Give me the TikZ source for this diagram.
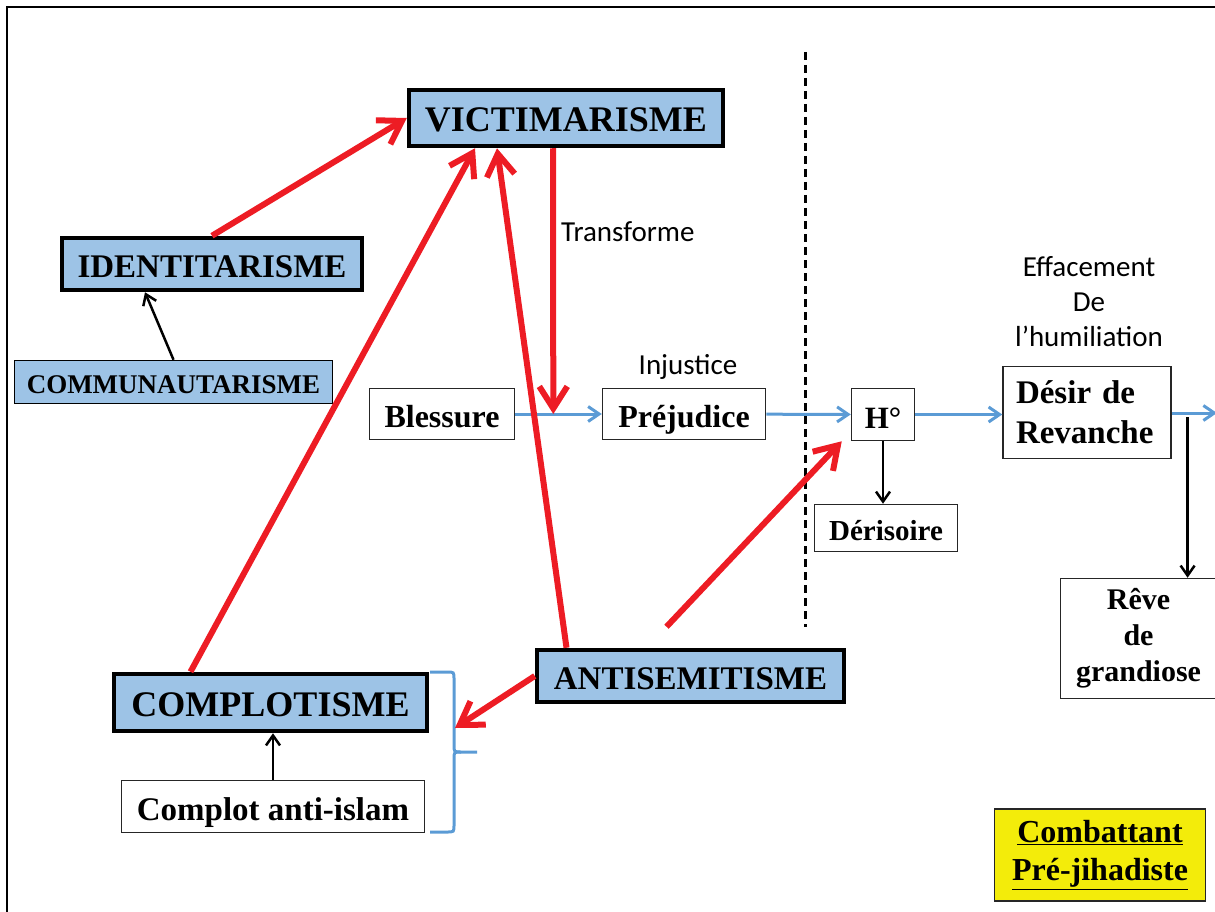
\documentclass[tikz,border=0pt]{standalone}
\usepackage{fontspec}
\setmainfont{Liberation Serif}
\newfontfamily\calibri{Carlito}
\usetikzlibrary{arrows.meta}
\definecolor{boxblue}{RGB}{157,195,230}
\definecolor{lineblue}{RGB}{91,155,213}
\definecolor{arrowred}{RGB}{237,28,36}
\definecolor{jaune}{RGB}{243,236,10}

\begin{document}
\begin{tikzpicture}[x=1pt,y=-1pt,
  idee/.style={draw=black,line width=4.5pt,fill=boxblue,inner sep=0pt,text height=27pt,text depth=0pt},
  etape/.style={draw=black!85,line width=1.5pt,fill=white,inner sep=0pt,align=center},
  ligne/.style={text height=28pt,text depth=1pt},
  legende/.style={font=\calibri\fontsize{29}{35}\selectfont,align=center,inner sep=0pt},
  rouge/.style={draw=arrowred,line width=6pt,-{Straight Barb[length=22pt,width=28pt]}},
  bleu/.style={draw=lineblue,line width=3pt,-{Straight Barb[length=11pt,width=15pt]}},
  noir/.style={draw=black,line width=2.5pt,-{Straight Barb[length=10pt,width=14pt]}},
  accolade/.style={draw=lineblue,line width=3pt}]
\useasboundingbox (0,0) rectangle (1215,912);
\clip (0,0) rectangle (1215,912);
\draw[line width=2.5pt] (7,7) rectangle (1260,960);

\node[idee,minimum width=314pt,minimum height=56pt,font=\fontsize{36}{40}\selectfont\bfseries] (vic) at (566,118) {VICTIMARISME};
\node[idee,text height=26pt,minimum width=300pt,minimum height=52pt,font=\fontsize{33}{38}\selectfont\bfseries] (ide) at (212,264) {IDENTITARISME};
\node[idee,text height=22pt,line width=1.5pt,minimum width=318pt,minimum height=43pt,font=\fontsize{27}{30}\selectfont\bfseries] (comm) at (173.5,382) {COMMUNAUTARISME};
\node[idee,minimum width=313pt,minimum height=57pt,font=\fontsize{36}{40}\selectfont\bfseries] (compl) at (270.5,702.5) {COMPLOTISME};
\node[idee,text height=26pt,minimum width=307pt,minimum height=52pt,font=\fontsize{33}{38}\selectfont\bfseries] (anti) at (690.5,676) {ANTISEMITISME};

\node[etape,ligne,minimum width=145pt,minimum height=51pt,font=\fontsize{32}{38}\selectfont\bfseries] (bles) at (442,414) {Blessure};
\node[etape,ligne,minimum width=163pt,minimum height=51pt,font=\fontsize{32}{38}\selectfont\bfseries] (prej) at (684,414) {Préjudice};
\node[etape,ligne,minimum width=63pt,minimum height=52pt,font=\fontsize{31}{38}\selectfont\bfseries] (hdeg) at (883,414.5) {H°};
\node[etape,text height=25pt,text depth=1pt,minimum width=143pt,minimum height=47pt,font=\fontsize{29}{34}\selectfont\bfseries] (deri) at (886,528) {Dérisoire};
\node[etape,align=left,text width=142pt,inner xsep=13pt,minimum height=92pt,font=\fontsize{33}{40}\selectfont\bfseries] (desir) at (1087,412.5) {Désir de\\Revanche};
\node[etape,minimum width=156pt,minimum height=120pt,font=\fontsize{30}{36}\selectfont\bfseries] (reve) at (1138.5,638.5) {Rêve\\de\\grandiose};
\node[etape,ligne,minimum width=303pt,minimum height=52pt,font=\fontsize{33}{38}\selectfont\bfseries] (ca) at (273,806.5) {Complot anti-islam};
\node[etape,fill=jaune,minimum width=211pt,minimum height=92pt,font=\fontsize{32}{38}\selectfont\bfseries] (comb) at (1100,855) {\underline{Combattant}\\\underline{Pré-jihadiste}};

\node[legende,anchor=west] (transf) at (561,232) {Transforme};
\node[legende] (inj) at (688,367) {Injustice};
\node[legende] (effac) at (1089,302) {Effacement\\De\\l’humiliation};

\draw[line width=3pt,dash pattern=on 8pt off 5pt] (805,52) -- (805,627);

\coordinate (exit) at (1217,413);
\coordinate (brhit) at (455,728);
\draw[bleu] (bles) -- coordinate[pos=0.44] (hit) (prej);
\draw[bleu] (prej) -- (hdeg);
\draw[bleu] (hdeg) -- (hdeg -| desir.west);
\draw[bleu] (desir.east |- exit) -- coordinate[pos=0.35] (split) (exit);

\draw[noir] (comm.north) -- ([xshift=-67pt]ide.south);
\draw[noir] (ca.north) -- (ca.north |- compl.south);
\draw[noir] (hdeg.south) -- (hdeg.south |- deri.north);
\draw[noir] ([yshift=-4pt]split) -- (split |- reve.north);

% accolade
\draw[accolade] (430,672) -- (447,672) .. controls (454,672) .. (454,679) -- (454,745)
  .. controls (454,752) .. (461,752) -- (477,752);
\draw[accolade] (461,752) .. controls (454,752) .. (454,759) -- (454,825)
  .. controls (454,832) .. (447,832) -- (430,832);

\draw[rouge] (ide.north) -- (vic.west);
\draw[rouge] ([xshift=-80pt]compl.north) -- ([xshift=-91pt]vic.south);
\draw[rouge] ([xshift=-124pt]anti.north) -- ([xshift=-69pt]vic.south);
\draw[rouge] ([xshift=-13pt]vic.south) -- (hit);
\draw[rouge] ([shift={(-24pt,21pt)}]anti.north) -- ([xshift=-9pt]hdeg.south west);
\draw[rouge] (anti.west) -- (brhit);
\end{tikzpicture}
\end{document}
